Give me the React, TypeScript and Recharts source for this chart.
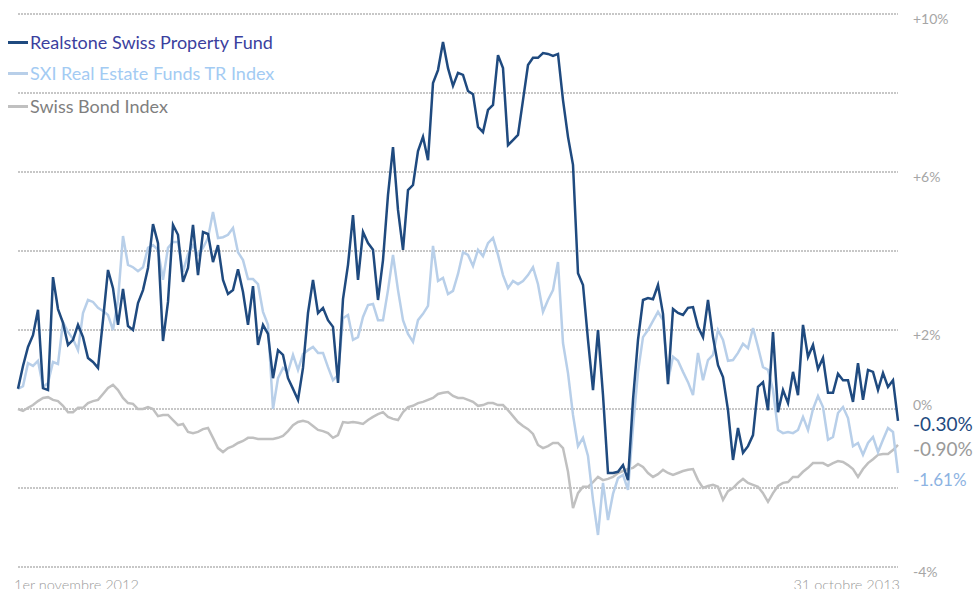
import React from "react";
import { LineChart, Line, XAxis, YAxis, CartesianGrid } from "recharts";

const dateLabels = ["1er novembre 2012", "31 octobre 2013"];

const seriesNames = [
  "Realstone Swiss Property Fund",
  "SXI Real Estate Funds TR Index",
  "Swiss Bond Index",
];

const endLabels = ["-0.30%", "-0.90%", "-1.61%"];

const realstone = [
  0.51, 1.09, 1.57, 1.87, 2.51, 0.53, 0.48, 3.34, 2.53, 2.18,
  1.62, 1.75, 2.13, 1.82, 1.29, 1.19, 1.04, 2.25, 3.52, 3.06,
  2.13, 3.04, 2.10, 2.00, 2.68, 3.01, 3.57, 4.68, 4.20, 1.72,
  2.71, 4.66, 4.41, 3.22, 3.57, 4.66, 3.39, 4.48, 4.43, 3.72,
  4.15, 3.27, 2.91, 3.01, 3.54, 2.96, 2.13, 3.11, 1.62, 2.13,
  1.90, 0.78, 1.49, 1.37, 0.78, 0.51, 0.23, 1.04, 2.43, 3.27,
  2.43, 2.56, 2.25, 2.08, 0.66, 2.78, 3.65, 4.91, 3.27, 4.48,
  4.20, 4.03, 2.76, 3.77, 5.42, 6.63, 5.04, 4.03, 5.54, 5.67,
  6.53, 6.89, 6.30, 8.25, 8.58, 9.29, 8.63, 8.18, 8.51, 8.46,
  8.05, 7.97, 7.14, 7.01, 7.57, 7.70, 8.96, 8.63, 6.68, 6.81,
  6.94, 7.82, 8.71, 8.89, 8.89, 9.01, 8.99, 8.94, 8.99, 7.82,
  6.89, 6.18, 3.44, 3.14, 1.75, 0.48, 2.00, 0.35, -1.62, -1.62,
  -1.59, -1.42, -1.80, 0.23, 1.75, 2.76, 2.81, 2.78, 3.14, 2.41,
  0.63, 2.53, 2.43, 2.38, 2.56, 2.58, 2.08, 1.82, 2.76, 1.82,
  1.11, 0.81, -0.03, -1.29, -0.48, -1.11, -0.94, -0.66, 0.56, 0.68,
  -0.03, 1.95, -0.08, 0.48, 0.15, 0.94, 0.35, 2.13, 1.32, 1.62,
  1.01, 1.29, 0.41, 0.41, 0.89, 0.73, 0.73, 0.18, 1.16, 0.23,
  0.99, 0.94, 0.48, 0.91, 0.56, 0.73, -0.30,
];

const sxi = [
  0.51, 0.58, 1.16, 1.09, 1.22, 0.56, 0.66, 1.19, 1.14, 2.20,
  1.95, 1.77, 1.49, 2.43, 2.76, 2.71, 2.56, 2.48, 2.38, 2.00,
  2.76, 4.38, 3.65, 3.59, 3.49, 3.59, 4.08, 4.15, 4.03, 3.27,
  4.08, 4.23, 4.23, 3.47, 3.92, 4.15, 3.90, 4.08, 4.33, 4.99,
  4.33, 4.35, 4.41, 4.58, 3.97, 3.77, 3.29, 3.29, 3.16, 2.46,
  2.13, 0.00, 0.78, 1.04, 0.94, 1.37, 0.99, 1.39, 1.49, 1.57,
  1.42, 1.42, 1.06, 0.73, 0.86, 2.30, 2.38, 1.75, 1.82, 2.33,
  2.63, 2.66, 2.25, 2.25, 3.01, 3.90, 3.01, 2.25, 1.90, 1.70,
  2.25, 2.41, 2.61, 4.13, 3.24, 3.32, 2.91, 2.99, 3.42, 3.97,
  3.90, 3.62, 4.03, 3.87, 4.20, 4.33, 3.90, 3.39, 3.06, 3.24,
  3.16, 3.24, 3.39, 3.59, 3.16, 2.46, 2.76, 3.01, 3.72, 1.67,
  0.91, -0.15, -0.94, -0.73, -1.19, -2.30, -3.19, -1.87, -2.81, -2.15,
  -1.75, -1.67, -2.05, -0.46, 0.94, 1.82, 2.00, 2.23, 2.46, 2.25,
  0.71, 1.32, 1.22, 0.94, 0.68, 0.35, 1.42, 0.73, 1.24, 1.37,
  2.00, 1.75, 1.22, 1.24, 1.42, 1.65, 1.54, 2.05, 1.57, 1.06,
  0.99, 0.48, -0.53, -0.61, -0.58, -0.61, -0.53, -0.20, -0.53, 0.00,
  0.33, 0.05, -0.78, -0.71, -0.10, 0.05, -0.23, -0.94, -0.86, -1.16,
  -0.86, -0.71, -1.09, -0.78, -0.48, -0.58, -1.62,
];

const sbi = [
  0.00, -0.05, 0.03, 0.10, 0.20, 0.28, 0.30, 0.23, 0.20, 0.08,
  -0.08, -0.08, 0.03, 0.03, 0.15, 0.20, 0.23, 0.38, 0.53, 0.61,
  0.48, 0.28, 0.15, 0.13, 0.00, 0.00, 0.05, 0.00, -0.18, -0.15,
  -0.15, -0.28, -0.41, -0.38, -0.58, -0.61, -0.58, -0.51, -0.48, -0.73,
  -0.99, -1.09, -0.99, -0.94, -0.86, -0.81, -0.73, -0.73, -0.76, -0.76,
  -0.76, -0.76, -0.73, -0.68, -0.56, -0.41, -0.33, -0.30, -0.33, -0.43,
  -0.53, -0.56, -0.61, -0.73, -0.66, -0.33, -0.35, -0.33, -0.35, -0.38,
  -0.28, -0.20, -0.13, -0.08, -0.20, -0.25, -0.28, -0.08, 0.05, 0.08,
  0.15, 0.18, 0.23, 0.28, 0.38, 0.41, 0.43, 0.33, 0.28, 0.28,
  0.23, 0.18, 0.08, 0.10, 0.15, 0.15, 0.10, 0.10, -0.03, -0.18,
  -0.33, -0.43, -0.51, -0.63, -0.91, -0.99, -0.94, -0.86, -0.86, -0.99,
  -1.59, -2.51, -2.13, -1.97, -1.97, -1.85, -1.72, -1.80, -1.77, -1.72,
  -1.62, -1.57, -1.52, -1.49, -1.39, -1.47, -1.62, -1.72, -1.65, -1.54,
  -1.62, -1.67, -1.62, -1.57, -1.54, -1.52, -1.80, -2.00, -1.95, -1.92,
  -1.97, -2.30, -2.08, -2.00, -1.87, -1.77, -1.87, -1.92, -1.97, -2.13,
  -2.35, -2.13, -1.95, -1.87, -1.85, -1.72, -1.72, -1.59, -1.49, -1.37,
  -1.37, -1.37, -1.44, -1.37, -1.32, -1.34, -1.42, -1.52, -1.72, -1.52,
  -1.37, -1.27, -1.16, -1.14, -1.14, -1.04, -0.91,
];

const yTicks = [-4, -2, 0, 2, 4, 6, 8, 10];
const yLabeled = [10, 6, 2, 0, -4];

const colors = ["#1f4a7f", "#b8cfe9", "#c0c0c0"];
const legendTextColors = ["#3b3f9e", "#a3cbf3", "#7f7f7f"];
const endLabelColors = ["#1f4a7f", "#9a9a9a", "#8db3e2"];

const data = realstone.map((v, i) => ({ i, realstone: v, sxi: sxi[i], sbi: sbi[i] }));
const lastIndex = data.length - 1;

const FONT = "Lato, 'Open Sans', sans-serif";

const fmtTick = (v: number) => (v > 0 ? `+${v}%` : `${v}%`);

const YTick = (props: any) => {
  const { y, payload } = props;
  const v = payload.value;
  if (!yLabeled.includes(v)) return <g />;
  return (
    <text
      x={913}
      y={v === 0 ? y - 5 : y + 4}
      fill="#a6a6a6"
      fontSize={14}
      fontFamily={FONT}
      dominantBaseline="central"
    >
      {fmtTick(v)}
    </text>
  );
};

const XTick = (props: any) => {
  const { payload } = props;
  const first = payload.value === 0;
  return (
    <text
      x={first ? 14 : 900}
      y={590}
      fill="#9a9a9a"
      fontSize={14.5}
      fontWeight={300}
      fontFamily={FONT}
      textAnchor={first ? "start" : "end"}
    >
      {first ? dateLabels[0] : dateLabels[1]}
    </text>
  );
};

const legendRows = [42, 73, 106];
const endLabelRows = [424, 449, 480];
const endLabelSizes = [19, 19, 17];

export default function App() {
  return (
    <div style={{ position: "absolute", left: 0, top: 0, width: 974, height: 589, background: "#fff", overflow: "hidden" }}>
      <LineChart
        width={974}
        height={589}
        data={data}
        margin={{ top: 14, right: 0, left: 18, bottom: 0 }}
      >
        <CartesianGrid vertical={false} stroke="#8f8f8f" strokeDasharray="2 1" />
        <XAxis
          dataKey="i"
          type="number"
          domain={[0, lastIndex]}
          ticks={[0, lastIndex]}
          axisLine={false}
          tickLine={false}
          height={22}
          tick={<XTick />}
          interval={0}
        />
        <YAxis
          orientation="right"
          domain={[-4, 10]}
          ticks={yTicks}
          axisLine={false}
          tickLine={false}
          width={76}
          tick={<YTick />}
          interval={0}
        />
        <Line type="linear" dataKey="sbi" stroke={colors[2]} strokeWidth={2.5} dot={false} isAnimationActive={false} />
        <Line type="linear" dataKey="sxi" stroke={colors[1]} strokeWidth={2.5} dot={false} isAnimationActive={false} />
        <Line type="linear" dataKey="realstone" stroke={colors[0]} strokeWidth={2.5} dot={false} isAnimationActive={false} />
      </LineChart>
      {seriesNames.map((name, k) => (
        <div
          key={name}
          style={{
            position: "absolute",
            left: 8,
            top: legendRows[k] - 12,
            height: 24,
            display: "flex",
            alignItems: "center",
            fontFamily: FONT,
            fontSize: 18,
            color: legendTextColors[k],
            whiteSpace: "nowrap",
          }}
        >
          <span style={{ display: "inline-block", width: 20, height: 3, background: colors[k], marginRight: 2 }} />
          {name}
        </div>
      ))}
      {endLabels.map((t, k) => (
        <div
          key={t}
          style={{
            position: "absolute",
            left: 913,
            top: endLabelRows[k] - 12,
            height: 24,
            lineHeight: "24px",
            fontFamily: FONT,
            fontSize: endLabelSizes[k],
            color: endLabelColors[k],
            whiteSpace: "nowrap",
          }}
        >
          {t}
        </div>
      ))}
    </div>
  );
}
